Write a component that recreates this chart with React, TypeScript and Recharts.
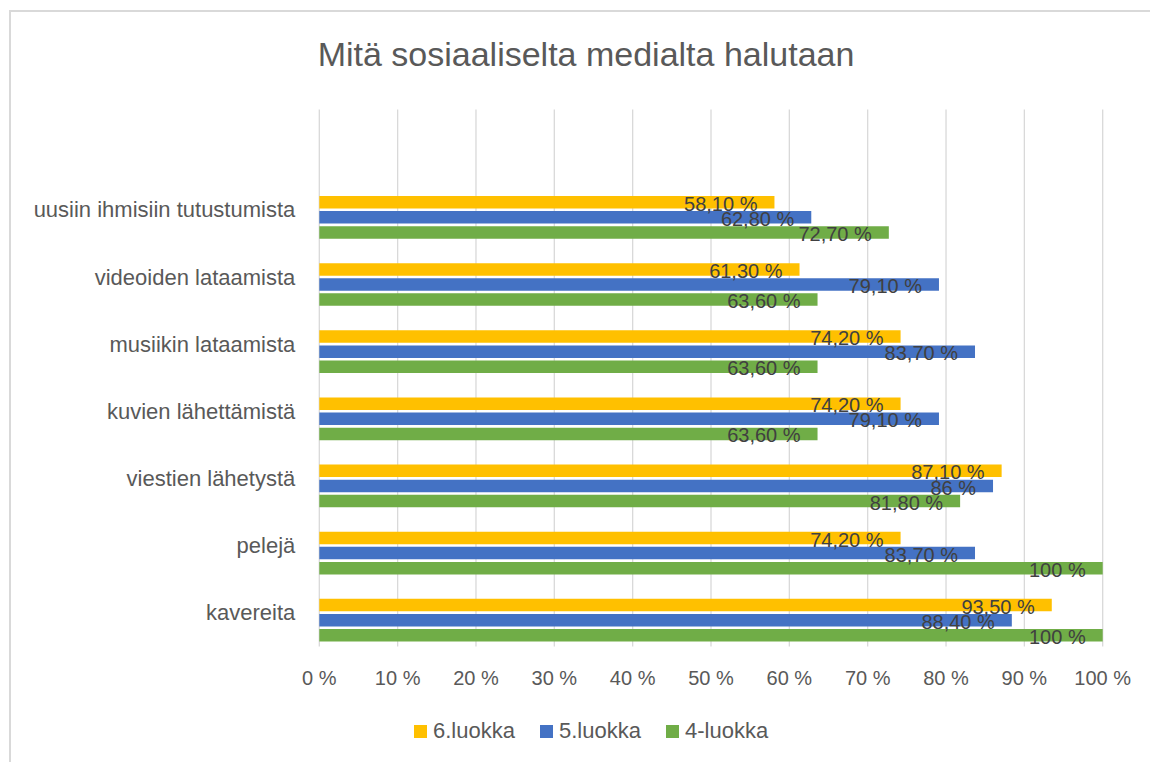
import React from 'react';
import {
  BarChart,
  Bar,
  XAxis,
  YAxis,
  CartesianGrid,
  Legend,
  LabelList
} from 'recharts';

const categories = [
  'uusiin ihmisiin tutustumista',
  'videoiden lataamista',
  'musiikin lataamista',
  'kuvien lähettämistä',
  'viestien lähetystä',
  'pelejä',
  'kavereita',
];

const luokka6 = [58.1, 61.3, 74.2, 74.2, 87.1, 74.2, 93.5];
const luokka5 = [62.8, 79.1, 83.7, 79.1, 86, 83.7, 88.4];
const luokka4 = [72.7, 63.6, 63.6, 63.6, 81.8, 100, 100];

const xTicks = [0, 10, 20, 30, 40, 50, 60, 70, 80, 90, 100];

const seriesNames = ['6.luokka', '5.luokka', '4-luokka'];
const seriesColors = ['#FFC000', '#4472C4', '#70AD47'];

const data = categories.map((name, i) => ({
  name,
  [seriesNames[0]]: luokka6[i],
  [seriesNames[1]]: luokka5[i],
  [seriesNames[2]]: luokka4[i],
}));

const FONT = '"Liberation Sans", Arial, sans-serif';

// 58.1 -> "58,10 %", 100 -> "100 %"
const formatPct = (v: any) => {
  const n = Number(v);
  return Number.isInteger(n) ? `${n} %` : `${n.toFixed(2).replace('.', ',')} %`;
};

// legend comes reversed in vertical layout, keep series order
const renderLegend = (props: any) => {
  const items = [...(props.payload || [])].sort(
    (a: any, b: any) => seriesNames.indexOf(a.value) - seriesNames.indexOf(b.value)
  );
  return (
    <div style={{ display: 'flex', fontFamily: FONT }}>
      {items.map((p: any) => (
        <div key={p.value} style={{ display: 'flex', alignItems: 'center', width: 126, height: 22 }}>
          <span style={{ width: 13, height: 13, background: p.color, marginRight: 6, flex: 'none' }} />
          <span style={{ fontSize: 22, lineHeight: '22px', color: '#595959', whiteSpace: 'nowrap' }}>{p.value}</span>
        </div>
      ))}
    </div>
  );
};

export default function App() {
  return (
    <div style={{ position: 'absolute', left: 0, top: 0, width: 1150, height: 762, overflow: 'hidden', background: '#fff', fontFamily: FONT }}>
      <div style={{ position: 'absolute', left: 9, top: 10, width: 1200, height: 800, border: '2px solid #d9d9d9', boxSizing: 'border-box' }} />
      <div style={{ position: 'absolute', left: 9, top: 37, width: 1154, textAlign: 'center', fontSize: 34, lineHeight: '34px', color: '#595959' }}>
        Mitä sosiaaliselta medialta halutaan
      </div>
      <div style={{ position: 'absolute', left: 0, top: 0 }}>
        <BarChart
          width={1150}
          height={762}
          data={data}
          layout="vertical"
          margin={{ top: 109.4, right: 47.3, bottom: 65.4, left: 0 }}
          barSize={12.5}
          barGap={2.6}
        >
          <CartesianGrid horizontal={false} stroke="#d9d9d9" strokeWidth={1.3} />
          <XAxis
            type="number"
            domain={[0, 100]}
            ticks={xTicks}
            tickFormatter={formatPct}
            axisLine={false}
            tickLine={false}
            tickSize={0}
            tickMargin={24}
            height={50}
            tick={{ fill: '#595959', fontSize: 20, fontFamily: FONT }}
          />
          <YAxis
            type="category"
            dataKey="name"
            width={319.3}
            axisLine={false}
            tickLine={false}
            tickSize={0}
            tickMargin={24}
            padding={{ top: 74.6, bottom: -7.4 }}
            interval={0}
            tick={{ fill: '#595959', fontSize: 22, fontFamily: FONT, dy: -8 }}
          />
          <Legend
            verticalAlign="middle"
            align="center"
            layout="horizontal"
            content={renderLegend}
            wrapperStyle={{ top: 720, left: 414, width: 400 }}
          />
          {seriesNames.map((s, i) => (
            <Bar key={s} dataKey={s} name={s} fill={seriesColors[i]} isAnimationActive={false}>
              <LabelList
                dataKey={s}
                position="insideRight"
                offset={17}
                formatter={formatPct}
                fill="#404040"
                fontSize={20}
                fontFamily={FONT}
                dy={1.5}
              />
            </Bar>
          ))}
        </BarChart>
      </div>
    </div>
  );
}
